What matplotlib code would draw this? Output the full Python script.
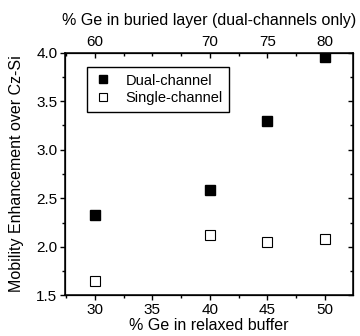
import matplotlib
matplotlib.use("Agg")
from matplotlib import pyplot as plt
from matplotlib.ticker import MultipleLocator, FixedLocator

plt.rcParams['font.family'] = ['Liberation Sans', 'DejaVu Sans']

buffer_ge = [30, 40, 45, 50]
dual_channel = [2.33, 2.58, 3.30, 3.96]
single_buffer_ge = [30, 40, 45, 50]
single_channel = [1.65, 2.12, 2.05, 2.08]
top_ticks = [30, 40, 45, 50]
top_labels = ['60', '70', '75', '80']

fig = plt.figure(figsize=(3.6, 3.36), dpi=100)
ax = fig.add_axes([0.1806, 0.1211, 0.80, 0.7221])

ax.plot(buffer_ge, dual_channel, 's', color='black', markersize=6.8,
        label='Dual-channel')
ax.plot(single_buffer_ge, single_channel, 's', markerfacecolor='white',
        markeredgecolor='black', markeredgewidth=0.8, markersize=6.8,
        label='Single-channel')

ax.set_xlim(27.4, 52.45)
ax.set_ylim(1.5, 4.0)
ax.xaxis.set_major_locator(MultipleLocator(5))
ax.xaxis.set_minor_locator(MultipleLocator(2.5))
ax.yaxis.set_major_locator(MultipleLocator(0.5))
ax.yaxis.set_minor_locator(MultipleLocator(0.25))
ax.tick_params(which='both', direction='out', labelsize=11, width=1,
               top=False, right=False, pad=2)
ax.tick_params(which='major', length=3.5)
ax.tick_params(which='minor', length=2.5)
for side in ax.spines.values():
    side.set_linewidth(1.1)

ax.set_xlabel('% Ge in relaxed buffer', fontsize=11.5, labelpad=1)
ax.set_ylabel('Mobility Enhancement over Cz-Si', fontsize=11.5, labelpad=9)

# inward ticks on the right edge
right = ax.twinx()
right.set_ylim(ax.get_ylim())
right.yaxis.set_major_locator(MultipleLocator(0.5))
right.yaxis.set_minor_locator(MultipleLocator(0.25))
right.tick_params(which='both', direction='in', labelright=False, width=1)
right.tick_params(which='major', length=3.5)
right.tick_params(which='minor', length=2.5)

top = ax.twiny()
top.set_xlim(ax.get_xlim())
top.xaxis.set_major_locator(FixedLocator(top_ticks))
top.xaxis.set_minor_locator(MultipleLocator(2.5))
top.set_xticklabels(top_labels)
top.tick_params(which='both', direction='in', labelsize=11, width=1, pad=3)
top.tick_params(which='major', length=3.5)
top.tick_params(which='minor', length=2.5)
top.set_xlabel('% Ge in buried layer (dual-channels only)', fontsize=11.5,
               labelpad=7)

ax.legend(loc='upper left', bbox_to_anchor=(0.076, 0.941), borderaxespad=0,
          fontsize=10.5, frameon=True, fancybox=False, edgecolor='black',
          markerscale=0.8, handletextpad=0.9, borderpad=0.45,
          labelspacing=0.25, handlelength=1.3, framealpha=1)

fig.savefig('out.png', dpi=100)
